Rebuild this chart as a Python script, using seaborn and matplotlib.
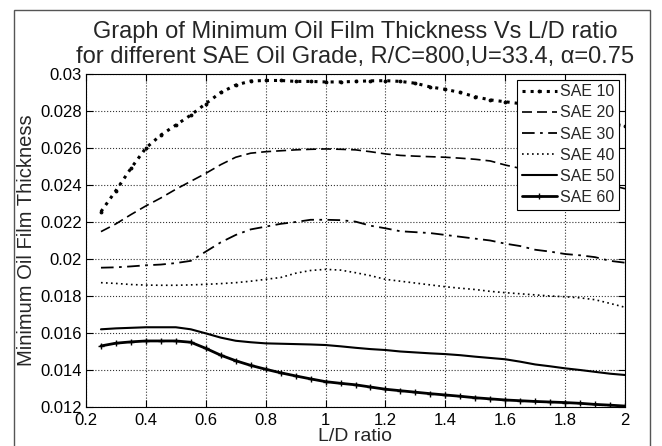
import numpy as np
import pandas as pd
import matplotlib
matplotlib.use("Agg")
import matplotlib.pyplot as plt
import seaborn as sns
from matplotlib.ticker import FuncFormatter
from matplotlib.patches import Rectangle

ld_ratio = [0.25, 0.30, 0.35, 0.40, 0.45, 0.50, 0.55, 0.60, 0.65, 0.70, 0.75, 0.80,
            0.85, 0.90, 0.95, 1.00, 1.05, 1.10, 1.15, 1.20, 1.25, 1.30, 1.35, 1.40,
            1.45, 1.50, 1.55, 1.60, 1.65, 1.70, 1.75, 1.80, 1.85, 1.90, 1.95, 2.00]

sae10 = [0.02256, 0.0237, 0.0249, 0.0260, 0.0267, 0.02724, 0.02778, 0.0284, 0.0290, 0.0294,
         0.02962, 0.02965, 0.02965, 0.0296, 0.0296, 0.02957, 0.02957, 0.0296, 0.02963, 0.02964,
         0.0296, 0.0295, 0.0293, 0.02917, 0.0290, 0.02877, 0.0286, 0.0285, 0.0284, 0.0282,
         0.0280, 0.0278, 0.0276, 0.0274, 0.0273, 0.0272]
sae20 = [0.02148, 0.0219, 0.0224, 0.02287, 0.0233, 0.02377, 0.0242, 0.02463, 0.0251, 0.0255,
         0.02572, 0.0258, 0.02585, 0.0259, 0.02593, 0.02595, 0.02593, 0.0259, 0.0258, 0.02568,
         0.0256, 0.02556, 0.02553, 0.0255, 0.02545, 0.02539, 0.0253, 0.02508, 0.0249, 0.0247,
         0.0246, 0.0245, 0.0244, 0.0242, 0.0240, 0.0238]
sae30 = [0.01953, 0.01955, 0.0196, 0.01966, 0.0197, 0.01978, 0.0199, 0.0204, 0.0209, 0.0213,
         0.0216, 0.02175, 0.0219, 0.0220, 0.02212, 0.02212, 0.0221, 0.02202, 0.0218, 0.02166,
         0.0215, 0.02145, 0.0214, 0.0213, 0.0212, 0.0211, 0.0210, 0.02083, 0.0207, 0.0205,
         0.0204, 0.02027, 0.0202, 0.0201, 0.0199, 0.0198]
sae40 = [0.01872, 0.01868, 0.01862, 0.01859, 0.01858, 0.01858, 0.0186, 0.01863, 0.01867, 0.01872,
         0.0188, 0.0189, 0.0190, 0.01923, 0.01938, 0.01944, 0.0194, 0.01926, 0.0191, 0.0189,
         0.0188, 0.0187, 0.0186, 0.0185, 0.01842, 0.01835, 0.01825, 0.01818, 0.01812, 0.01806,
         0.0180, 0.01796, 0.0179, 0.0178, 0.0176, 0.01739]
sae50 = [0.0162, 0.01625, 0.01628, 0.01631, 0.01631, 0.01631, 0.0162, 0.01598, 0.01575, 0.01558,
         0.0155, 0.01544, 0.01542, 0.0154, 0.01538, 0.01535, 0.01528, 0.0152, 0.01513, 0.01508,
         0.0150, 0.01495, 0.0149, 0.01486, 0.0148, 0.01472, 0.01465, 0.01458, 0.01445, 0.0143,
         0.0142, 0.01409, 0.0140, 0.0139, 0.0138, 0.01373]
sae60 = [0.0153, 0.01545, 0.01552, 0.01557, 0.01557, 0.01557, 0.0155, 0.01517, 0.0148, 0.0145,
         0.01425, 0.01404, 0.01385, 0.01368, 0.01352, 0.01337, 0.01328, 0.0132, 0.01308, 0.01296,
         0.01288, 0.0128, 0.01272, 0.01265, 0.01258, 0.0125, 0.01244, 0.01238, 0.01234, 0.0123,
         0.01227, 0.01224, 0.0122, 0.01214, 0.0121, 0.01205]

labels = ["SAE 10", "SAE 20", "SAE 30", "SAE 40", "SAE 50", "SAE 60"]
series = [sae10, sae20, sae30, sae40, sae50, sae60]
x_ticks = [0.2, 0.4, 0.6, 0.8, 1.0, 1.2, 1.4, 1.6, 1.8, 2.0]
y_ticks = [0.012, 0.014, 0.016, 0.018, 0.020, 0.022, 0.024, 0.026, 0.028, 0.030]

sns.set_style("white")
plt.rcParams['font.family'] = ['Liberation Sans', 'DejaVu Sans']

fig = plt.figure(figsize=(6.62, 4.46), dpi=100)
ax = fig.add_axes([86/662, 39/446, (625-86)/662, (407-74)/446])

styles = [
    dict(linestyle=':', linewidth=2.2, marker='.', markersize=4, mec='black', mfc='black'),
    dict(linestyle=(0, (6, 3)), linewidth=1.2),
    dict(linestyle=(0, (7, 3, 1.5, 3)), linewidth=1.3),
    dict(linestyle=(0, (1, 2)), linewidth=1.2),
    dict(linestyle='-', linewidth=1.5),
    dict(linestyle='-', linewidth=2.0, marker='+', markersize=4, markeredgewidth=1,
         mec='black'),
]

for lab, vals, st in zip(labels, series, styles):
    df = pd.DataFrame({"L/D ratio": ld_ratio, "h": vals})
    sns.lineplot(data=df, x="L/D ratio", y="h", ax=ax, color='black', label=lab, **st)

ax.set_xlim(0.2, 2.0)
ax.set_ylim(0.012, 0.030)
ax.set_xticks(x_ticks)
ax.set_yticks(y_ticks)
fmt = FuncFormatter(lambda v, p: ('%g' % round(v, 4)))
ax.xaxis.set_major_formatter(fmt)
ax.yaxis.set_major_formatter(fmt)
ax.grid(True, linestyle=':', color='black', linewidth=0.8, alpha=0.8)
ax.tick_params(direction='in', length=5, width=0.8, labelsize=12, colors='black',
               top=True, right=True, bottom=True, left=True)
ax.tick_params(axis='x', pad=4)
ax.tick_params(axis='y', pad=3)
for s in ax.spines.values():
    s.set_color('black')
    s.set_linewidth(0.8)

ax.set_xlabel("L/D ratio", fontsize=14, labelpad=0)
ax.set_ylabel("Minimum Oil Film Thickness", fontsize=14.5, labelpad=3)
ax.set_title("Graph of Minimum Oil Film Thickness Vs L/D ratio\n"
             "for different SAE Oil Grade, R/C=800,U=33.4, α=0.75",
             fontsize=17, pad=8, linespacing=1.15)

leg = ax.legend(loc='upper right', fontsize=11.5, frameon=True, fancybox=False,
                edgecolor='black', framealpha=1, handlelength=2.2, handletextpad=0.2,
                labelspacing=0.38, borderpad=0.3, borderaxespad=0.35)
leg.get_frame().set_linewidth(0.8)

fig.patches.append(Rectangle((14/662, -0.01), 636/662, (436/446) + 0.01, transform=fig.transFigure,
                             fill=False, edgecolor='#555555', linewidth=1))

fig.savefig("out.png", dpi=100)
